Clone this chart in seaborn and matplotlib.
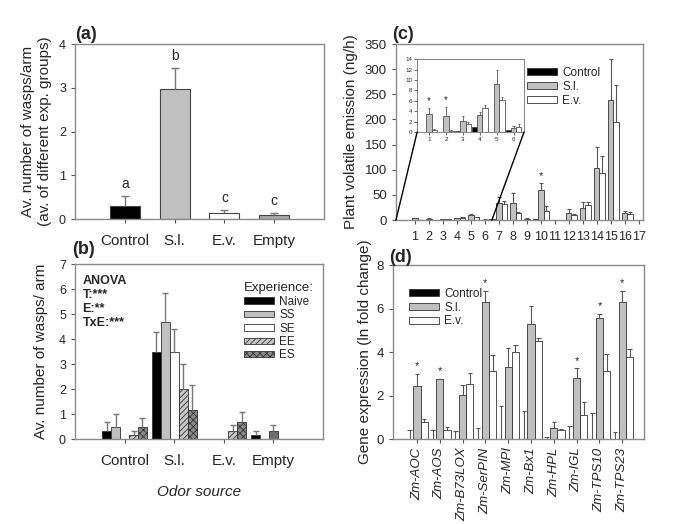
import matplotlib
matplotlib.use('Agg')
import matplotlib.pyplot as plt
from matplotlib.patches import Patch, ConnectionPatch
import numpy as np
import pandas as pd
import seaborn as sns

# ---- data -------------------------------------------------------------
odors = ['Control', 'S.l.', 'E.v.', 'Empty']

# (a) average over experience groups
wasps_mean = [0.30, 2.97, 0.14, 0.10]
wasps_err = [0.23, 0.48, 0.06, 0.04]
wasps_letters = ['a', 'b', 'c', 'c']

# (b) by experience group
experience = ['Naive', 'SS', 'SE', 'EE', 'ES']
naive_mean = [0.33, 3.50, 0.00, 0.17]
naive_err = [0.34, 0.77, 0.00, 0.16]
ss_mean = [0.50, 4.67, 0.00, 0.00]
ss_err = [0.50, 1.16, 0.00, 0.00]
se_mean = [0.00, 3.50, 0.00, 0.33]
se_err = [0.00, 0.92, 0.00, 0.22]
ee_mean = [0.17, 2.00, 0.33, 0.00]
ee_err = [0.16, 1.00, 0.22, 0.00]
es_mean = [0.50, 1.17, 0.67, 0.00]
es_err = [0.33, 1.00, 0.43, 0.00]

# (c) plant volatiles
treatments = ['Control', 'S.l.', 'E.v.']
compounds = [str(i) for i in range(1, 18)]
ctrl_voc = [0, 0, 0.15, 1.0, 0.05, 0.3, 2, 0, 0, 2, 0, 0, 0, 0, 0, 0, 0]
si_voc = [3.5, 3.0, 2.2, 3.2, 9.2, 0.8, 33, 34, 3, 59, 0, 15, 25, 104, 238, 15, 0]
ev_voc = [0.3, 0.2, 1.5, 4.7, 6.1, 1.0, 31, 14, 0, 18, 0, 10, 29, 94, 195, 13, 0]
si_voc_err = [1.1, 1.9, 0.8, 0.6, 2.8, 0.4, 12, 19, 1, 14, 0, 8, 10, 41, 82, 4, 0]
ev_voc_err = [0.2, 0.1, 0.4, 0.5, 0.7, 0.5, 6, 3, 0, 10, 0, 3, 6, 34, 73, 4, 0]
voc_stars = ['10']
inset_stars = ['1', '2']

# (d) gene expression
genes = ['Zm-AOC', 'Zm-AOS', 'Zm-B73LOX', 'Zm-SerPIN', 'Zm-MPI', 'Zm-Bx1',
         'Zm-HPL', 'Zm-IGL', 'Zm-TPS10', 'Zm-TPS23']
ctrl_gene = [0, 0, 0, 0, 0, 0, 0, 0, 0, 0]
ctrl_gene_err = [0.42, 0.40, 0.37, 0.52, 1.52, 1.30, 0.10, 0.60, 1.20, 0.33]
si_gene = [2.45, 2.75, 2.03, 6.32, 3.30, 5.30, 0.53, 2.83, 5.55, 6.30]
si_gene_err = [0.55, 0.03, 0.47, 0.50, 0.88, 0.82, 0.27, 0.42, 0.22, 0.52]
ev_gene = [0.78, 0.40, 2.55, 3.15, 4.02, 4.50, 0.40, 1.10, 3.15, 3.77]
ev_gene_err = [0.15, 0.15, 0.50, 0.73, 0.31, 0.15, 0.08, 0.62, 0.78, 0.38]
gene_stars = ['Zm-AOC', 'Zm-AOS', 'Zm-SerPIN', 'Zm-IGL', 'Zm-TPS10', 'Zm-TPS23']

# ---- style ------------------------------------------------------------
sns.set_style('ticks')
plt.rcParams['font.family'] = ['Liberation Sans', 'DejaVu Sans']
plt.rcParams['hatch.linewidth'] = 0.6
SPINE = '#8a8a8a'
trt_colors = {'Control': 'black', 'S.l.': '#c0c0c0', 'E.v.': 'white'}


def style_axes(ax):
    for s in ax.spines.values():
        s.set_color(SPINE)
        s.set_linewidth(1.0)
    ax.tick_params(color='#555555', length=3, width=0.8)


def add_err(ax, bars, errs, color, capw, lw=0.8):
    for p, e in zip(bars, errs):
        if e <= 0:
            continue
        x = p.get_x() + p.get_width() / 2
        top = p.get_height()
        ax.vlines(x, top, top + e, color=color, lw=lw, zorder=1)
        ax.hlines(top + e, x - capw, x + capw, color=color, lw=lw, zorder=1)


fig = plt.figure(figsize=(6.85, 5.24), dpi=100)

# ---- (a) --------------------------------------------------------------
ax_a = fig.add_axes([0.1095, 0.582, 0.3635, 0.334])
df_a = pd.DataFrame({'odor': odors, 'wasps': wasps_mean})
sns.barplot(data=df_a, x='odor', y='wasps', hue='odor', order=odors,
            palette=['black', '#c0c0c0', 'white', '#a8a8a8'], width=0.6,
            edgecolor='#444444', linewidth=0.8, legend=False, ax=ax_a)
bars_a = [c.patches[0] for c in ax_a.containers]
add_err(ax_a, bars_a, wasps_err, '#777777', 0.08, lw=1.0)
for i, (m, e, t) in enumerate(zip(wasps_mean, wasps_err, wasps_letters)):
    ax_a.text(i, m + e + 0.12, t, ha='center', va='bottom', fontsize=10)
ax_a.set_xlim(-1, 4)
ax_a.set_ylim(0, 4)
ax_a.set_yticks(range(5))
ax_a.set_xlabel('')
ax_a.set_ylabel('Av. number of wasps/arm\n(av. of different exp. groups)',
                fontsize=11, labelpad=5, linespacing=1.25)
ax_a.tick_params(axis='x', labelsize=11, pad=8)
ax_a.tick_params(axis='y', labelsize=9)
style_axes(ax_a)
fig.text(0.109, 0.925, '(a)', fontsize=13, fontweight='bold')

# ---- (b) --------------------------------------------------------------
ax_b = fig.add_axes([0.1095, 0.162, 0.362, 0.334])
b_means = [naive_mean, ss_mean, se_mean, ee_mean, es_mean]
b_errs = [naive_err, ss_err, se_err, ee_err, es_err]
rows = []
for grp, vals in zip(experience, b_means):
    for o, v in zip(odors, vals):
        rows.append({'odor': o, 'experience': grp, 'wasps': v})
df_b = pd.DataFrame(rows)
b_face = ['black', '#c0c0c0', 'white', '#c8c8c8', '#8a8a8a']
b_hatch = ['', '', '', '//////', 'xxxxx']
sns.barplot(data=df_b, x='odor', y='wasps', hue='experience', order=odors,
            hue_order=experience, palette=b_face, width=0.9,
            edgecolor='#333333', linewidth=0.6, legend=False, ax=ax_b)
for cont, h, errs in zip(ax_b.containers, b_hatch, b_errs):
    for p in cont.patches:
        p.set_hatch(h)
    add_err(ax_b, cont.patches, errs, '#777777', 0.06, lw=1.0)
# centre bar of the Empty group is drawn solid dark grey in the original
ax_b.containers[2].patches[3].set_facecolor('#6e6e6e')
ax_b.set_xlim(-1, 4)
ax_b.set_ylim(0, 7)
ax_b.set_yticks(range(8))
ax_b.set_xlabel('Odor source', fontsize=11, fontstyle='italic', labelpad=12)
ax_b.set_ylabel('Av. number of wasps/ arm', fontsize=11, labelpad=8)
ax_b.tick_params(axis='x', labelsize=11, pad=8)
ax_b.tick_params(axis='y', labelsize=9)
style_axes(ax_b)
ax_b.text(0.03, 0.94, 'ANOVA\nT:***\nE:**\nTxE:***', transform=ax_b.transAxes,
          fontsize=9, fontweight='bold', va='top', linespacing=1.25)
handles_b = [Patch(facecolor=f, edgecolor='#333333', hatch=h, linewidth=0.6)
             for f, h in zip(b_face, b_hatch)]
leg_b = ax_b.legend(handles_b, experience, title='Experience:', loc='upper right',
                    bbox_to_anchor=(1.0, 0.95),
                    frameon=False, fontsize=8.5, title_fontsize=9.5,
                    handlelength=2.6, handleheight=0.45, labelspacing=0.12,
                    handletextpad=0.4, borderaxespad=0.4)
leg_b._legend_box.align = 'left'
fig.text(0.105, 0.515, '(b)', fontsize=13, fontweight='bold')

# ---- (c) --------------------------------------------------------------
ax_c = fig.add_axes([0.578, 0.580, 0.3606, 0.336])
c_vals = [ctrl_voc, si_voc, ev_voc]
c_errs = [[0] * len(compounds), si_voc_err, ev_voc_err]
rows = []
for t, vals in zip(treatments, c_vals):
    for c, v in zip(compounds, vals):
        rows.append({'compound': c, 'treatment': t, 'emission': v})
df_c = pd.DataFrame(rows)
sns.barplot(data=df_c, x='compound', y='emission', hue='treatment',
            order=compounds, hue_order=treatments, palette=trt_colors,
            width=1.15, edgecolor='#333333', linewidth=0.6, legend=False, ax=ax_c)
for cont, errs in zip(ax_c.containers, c_errs):
    add_err(ax_c, cont.patches, errs, '#555555', 0.16)
for s in voc_stars:
    i = compounds.index(s)
    ax_c.text(i, si_voc[i] + si_voc_err[i] + 4, '*', ha='center', va='bottom', fontsize=8)
ax_c.set_xlim(-1.36, 16.3)
ax_c.set_ylim(0, 350)
ax_c.set_yticks(range(0, 351, 50))
ax_c.set_xlabel('')
ax_c.set_ylabel('Plant volatile emission (ng/h)', fontsize=11, labelpad=5)
ax_c.tick_params(axis='x', labelsize=9, pad=5)
ax_c.tick_params(axis='y', labelsize=9.5)
style_axes(ax_c)
handles_c = [Patch(facecolor=trt_colors[t], edgecolor='#333333', linewidth=0.6)
             for t in treatments]
ax_c.legend(handles_c, treatments, loc='upper right', bbox_to_anchor=(0.87, 0.93),
            frameon=False, fontsize=8.5, handlelength=2.6, handleheight=0.55,
            labelspacing=0.15, handletextpad=0.4)
fig.text(0.572, 0.925, '(c)', fontsize=13, fontweight='bold')

# inset with compounds 1-6
n_in = 6
ax_in = fig.add_axes([0.609, 0.748, 0.156, 0.139])
df_in = df_c[df_c['compound'].isin(compounds[:n_in])]
sns.barplot(data=df_in, x='compound', y='emission', hue='treatment',
            order=compounds[:n_in], hue_order=treatments, palette=trt_colors,
            width=0.9, edgecolor='#333333', linewidth=0.5, legend=False, ax=ax_in)
for cont, errs in zip(ax_in.containers, c_errs):
    add_err(ax_in, cont.patches, errs[:n_in], '#555555', 0.08, lw=0.6)
for s in inset_stars:
    i = compounds.index(s)
    ax_in.text(i, si_voc[i] + si_voc_err[i] + 0.3, '*', ha='center', va='bottom', fontsize=7)
ax_in.set_xlim(-0.7, 5.6)
ax_in.set_ylim(0, 14)
ax_in.set_yticks(range(0, 15, 2))
ax_in.set_xlabel('')
ax_in.set_ylabel('')
ax_in.tick_params(labelsize=4.5, length=2, width=0.5, pad=1.5)
for s in ax_in.spines.values():
    s.set_color(SPINE)
    s.set_linewidth(0.8)
for xa, xyb in [((-1.36, 0), (0, 0)), ((5.5, 0), (1, 0))]:
    con = ConnectionPatch(xyA=xa, coordsA=ax_c.transData, xyB=xyb,
                          coordsB=ax_in.transAxes, color='black', lw=1.0)
    fig.add_artist(con)

# ---- (d) --------------------------------------------------------------
ax_d = fig.add_axes([0.5737, 0.162, 0.3664, 0.332])
d_vals = [ctrl_gene, si_gene, ev_gene]
d_errs = [ctrl_gene_err, si_gene_err, ev_gene_err]
rows = []
for t, vals in zip(treatments, d_vals):
    for g, v in zip(genes, vals):
        rows.append({'gene': g, 'treatment': t, 'expression': v})
df_d = pd.DataFrame(rows)
sns.barplot(data=df_d, x='gene', y='expression', hue='treatment',
            order=genes, hue_order=treatments, palette=trt_colors,
            width=0.95, edgecolor='#333333', linewidth=0.6, legend=False, ax=ax_d)
for cont, errs in zip(ax_d.containers, d_errs):
    add_err(ax_d, cont.patches, errs, '#555555', 0.1)
for g in gene_stars:
    i = genes.index(g)
    ax_d.text(i, si_gene[i] + si_gene_err[i] + 0.12, '*', ha='center', va='bottom', fontsize=8)
ax_d.set_xlim(-1.05, 9.95)
ax_d.set_ylim(0, 8)
ax_d.set_yticks(range(0, 9, 2))
ax_d.set_xlabel('')
ax_d.set_ylabel('Gene expression (ln fold change)', fontsize=11, labelpad=3)
ax_d.tick_params(axis='x', labelsize=9.5, labelrotation=90, pad=3)
for lab in ax_d.get_xticklabels():
    lab.set_fontstyle('italic')
ax_d.tick_params(axis='y', labelsize=9.5)
style_axes(ax_d)
ax_d.legend(handles_c, treatments, loc='upper left', bbox_to_anchor=(0.02, 0.93),
            frameon=False, fontsize=8.5, handlelength=2.6, handleheight=0.55,
            labelspacing=0.15, handletextpad=0.4)
fig.text(0.568, 0.5, '(d)', fontsize=13, fontweight='bold')

fig.savefig('out.png', dpi=100)
